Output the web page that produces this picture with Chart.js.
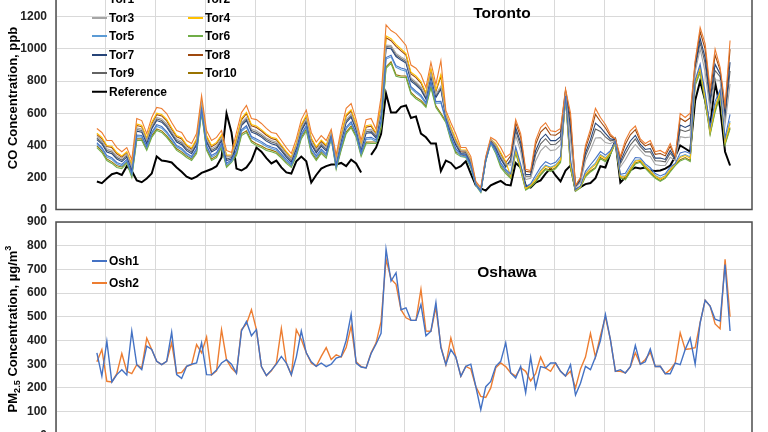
<!DOCTYPE html>
<html>
<head>
<meta charset="utf-8">
<script src="https://cdn.jsdelivr.net/npm/chart.js@4.4.0/dist/chart.umd.min.js"></script>
<style>
  html, body { margin: 0; padding: 0; background: #fff; }
  #page { position: relative; width: 768px; height: 432px; overflow: hidden; font-family: "Liberation Sans", Arial, sans-serif; color: #000; }
  .panel { position: absolute; left: 0; width: 768px; }
  #topPanel { top: -30px; height: 250px; }
  #botPanel { top: 212px; height: 240px; }
  .ytitle { position: absolute; font-weight: bold; font-size: 13px; white-space: nowrap; transform: translate(-50%, -50%) rotate(-90deg); }
  .ptitle { position: absolute; font-weight: bold; font-size: 15.5px; white-space: nowrap; transform: translate(-50%, -50%); }
  .lg-item { position: absolute; height: 16px; transform: translateY(-50%); font-weight: bold; font-size: 12px; line-height: 16px; white-space: nowrap; }
  .lg-line { position: absolute; top: 50%; height: 2px; transform: translateY(-50%); }
  .lg-text { position: absolute; top: 0; }
  sub, sup { font-size: 70%; line-height: 0; }
</style>
</head>
<body>
<div id="page">
  <div class="panel" id="topPanel"><canvas id="coChart"></canvas></div>
  <div class="panel" id="botPanel"><canvas id="pmChart"></canvas></div>
  <div class="ytitle" style="left:12px; top:98px;">CO Concentration, ppb</div>
  <div class="ytitle" style="left:12px; top:329px;">PM<sub>2.5</sub> Concentration, µg/m<sup>3</sup></div>
  <div class="ptitle" style="left:502px; top:13px;">Toronto</div>
  <div class="ptitle" style="left:507px; top:272px;">Oshawa</div>
  <div id="legends"></div>
</div>
<script>
// x categories: sample number along the record
const samples = Array.from({ length: 128 }, (_, i) => i);

// Toronto CO, ppb
const coTicks = [0, 200, 400, 600, 800, 1000, 1200, 1400];
const torNames = ['Tor1', 'Tor2', 'Tor3', 'Tor4', 'Tor5', 'Tor6', 'Tor7', 'Tor8', 'Tor9', 'Tor10'];
const torColors = ['#4472C4', '#ED7D31', '#A5A5A5', '#FFC000', '#5B9BD5', '#70AD47', '#264478', '#9E480E', '#636363', '#997300'];

const tor1 = [416,386,336,323,293,281,312,227,464,461, 394,480,528,517,486,444,399,382,350,331, 380,626,399,336,355,412,288,309,372,497,
  522,455,439,423,402,390,380,347,312,284, 357,470,522,382,334,377,347,455,272,401, 512,547,477,355,447,450,433,550,947,961,
  896,881,872,765,737,712,667,799,672,674, 559,457,379,344,339,277,156,114,307,420, 369,293,249,
  222,390,283,144,160,213,264, 298,282,294,331,707,313,123,149,238,279, 317,361,339,367,423,219,226,277,324,321,
  284,260,224,209,222,265,287,353,361,349, 806,906,732,515,674,747,447,592];
const tor2 = [505,480,430,430,386,360,386,310,567,554, 473,573,636,629,598,542,492,480,430,411, 473,710,492,430,449,492,368,355,480,604,
  648,567,560,536,505,480,473,430,386,349, 440,560,620,480,420,460,430,500,340,500, 630,660,560,430,560,567,500,700,1150,1115,
  1096,1060,1022,900,880,840,760,916,780,928, 617,540,470,386,386,330,175,137,330,449, 430,386,324,
  350,560,473,250,243,430,511, 540,490,485,505,750,600,150,200,400,500, 630,573,530,470,440,330,430,490,520,440,
  411,430,360,368,349,411,330,598,573,600, 928,1134,1034,750,1000,885,650,1053];
const tor3 = [455,428,378,368,334,318,346,265,508,502, 430,521,574,564,533,486,440,424,387,368, 421,664,440,378,396,449,325,334,418,542,
  574,502,490,471,446,430,421,385,346,315, 395,510,565,425,372,415,385,480,305,444, 561,595,515,390,495,499,465,610,1025,1022,
  973,951,932,820,795,765,708,848,718,769, 588,495,420,368,365,305,168,127,325,440, 400,334,284,
  275,460,361,187,194,302,365, 397,367,372,402,725,431,134,170,305,370, 446,448,417,410,430,265,310,365,405,370,
  336,330,280,274,274,325,305,454,448,452, 856,1000,856,611,808,804,530,782];
const tor4 = [475,449,399,394,355,334,361,282,533,523, 447,542,600,592,561,509,461,447,403,384, 442,682,461,399,418,465,341,340,444,568,
  606,530,520,498,471,450,442,402,361,327, 412,530,587,447,391,432,402,485,317,467, 591,622,532,405,522,528,478,650,1082,1064,
  1029,1000,972,855,832,797,729,877,744,843, 598,512,440,372,370,312,169,129,322,439, 410,355,299,
  208,370,261,131,150,188,235, 269,257,271,310,702,279,120,143,220,253, 280,336,316,355,421,206,202,252,301,307,
  269,240,208,190,207,249,282,324,336,320, 792,879,697,487,636,731,423,538];
const tor5 = [406,376,326,313,283,271,302,217,454,451, 384,470,518,507,476,434,389,372,340,321, 370,616,389,326,345,402,278,299,362,487,
  512,445,429,413,392,380,370,337,302,274, 347,460,512,372,324,367,337,445,262,391, 502,537,467,345,437,440,423,540,937,951,
  886,871,862,755,727,702,657,789,662,664, 549,447,369,334,329,267,152,110,303,415, 359,283,239,
  211,375,266,134,152,194,242, 276,263,277,315,703,287,120,144,224,259, 289,342,322,358,421,209,208,258,307,310,
  273,245,212,195,211,252,283,331,342,327, 795,886,705,494,645,735,429,551];
const tor6 = [386,355,305,287,262,255,287,200,430,430, 368,449,492,480,449,411,368,349,324,305, 349,598,368,305,324,386,262,293,336,461,
  480,418,399,386,368,360,349,320,287,262, 330,440,490,350,305,350,320,440,250,368, 473,510,450,330,410,411,411,500,880,910,
  830,822,822,720,690,670,636,760,636,590, 540,430,349,330,324,260,150,106,300,411, 349,262,224,
  194,352,244,121,140,170,214, 248,238,253,292,690,256,113,135,204,234, 256,316,298,342,414,195,185,234,283,294,
  256,224,195,176,194,234,273,303,316,298, 772,852,668,465,606,712,403,503];
const tor7 = [435,408,358,348,314,298,326,245,488,482, 410,501,554,544,513,466,420,404,367,348, 401,644,420,358,376,429,305,314,398,522,
  554,482,470,451,426,410,401,365,326,295, 375,490,545,405,352,395,365,460,285,424, 541,575,495,370,475,479,445,590,1005,1002,
  953,931,912,800,775,745,688,828,698,749, 568,475,400,348,345,285,155,115,305,420, 380,314,264,
  312,510,417,219,218,366,438, 469,429,429,454,737,515,142,185,352,435, 538,511,474,440,435,297,370,427,462,405,
  374,380,320,321,312,368,317,526,511,526, 892,1067,945,681,904,844,590,917];
const tor8 = [467,440,392,386,347,326,353,275,524,515, 439,533,591,583,552,500,453,439,396,376, 434,674,453,391,410,457,333,333,436,559,
  597,521,511,489,463,442,434,394,354,320, 404,521,578,439,383,424,394,478,310,459, 582,613,524,397,513,519,470,640,1070,1052,
  1016,988,962,845,822,788,721,867,735,830, 590,504,432,365,363,305,164,125,316,432, 402,347,291,
  335,540,451,238,233,405,482, 512,466,463,485,745,566,147,194,381,474, 593,548,508,458,438,317,406,465,497,426,
  396,410,344,349,334,394,325,569,548,570, 914,1107,999,722,962,869,626,999];
const tor9 = [445,418,368,358,324,308,336,255,498,492, 420,511,564,554,523,476,430,414,377,358, 411,654,430,368,386,439,315,324,408,532,
  564,492,480,461,436,420,411,375,336,305, 385,500,555,415,362,405,375,470,295,434, 551,585,505,380,485,489,455,600,1015,1012,
  963,941,922,810,785,755,698,838,708,759, 578,485,410,358,355,295,162,121,315,430, 390,324,274,
  297,490,395,207,208,341,409, 441,405,407,434,732,481,139,179,333,409, 501,486,452,428,433,284,346,402,439,391,
  359,360,304,302,297,351,312,497,486,496, 878,1040,910,653,866,828,566,863];
const tor10 = [396,365,315,297,272,265,297,210,440,440, 378,459,502,490,459,421,378,359,334,315, 359,608,378,315,334,396,272,303,346,471,
  490,428,409,396,378,370,359,330,297,272, 340,450,500,360,315,360,330,450,260,378, 483,520,460,340,420,421,421,510,890,920,
  840,832,832,730,700,680,646,770,646,600, 550,440,359,340,334,270,158,112,308,418, 359,272,234,
  200,360,250,125,145,175,220, 255,245,260,300,700,262,118,140,210,240, 262,324,305,349,420,200,190,240,290,300,
  262,230,200,181,200,240,280,310,324,305, 785,866,679,473,617,723,411,511];
const reference = [174,164,193,220,228,215,270,240,181,170, 193,224,330,305,300,293,262,235,205,190, 205,228,240,252,270,324,598,480,255,243,
  262,305,386,360,320,287,305,262,231,224, 300,330,300,168,215,255,270,280,280,290, 270,310,287,230,null,340,386,470,723,605,
  605,640,648,570,580,473,450,411,411,240, 305,290,255,270,300,224,150,131,118,150, 165,178,155,150,290,262,150,137,168,181,
  224,257,212,175,243,274,122,140,158,165, 195,270,262,350,430,168,200,243,262,255, 262,243,240,243,255,274,330,399,380,360,
  679,800,679,515,791,636,360,274];

// Oshawa PM2.5, ug/m3
const pmTicks = [0, 100, 200, 300, 400, 500, 600, 700, 800, 900];
const osh1 = [348,250,397,225,256,277,255,440,298,277, 376,362,312,298,312,435,256,240,291,300, 305,390,256,255,275,305,319,300,262,440,
  480,420,446,290,252,275,300,333,305,255, 330,440,348,310,291,
  305,290,300,326,333,400,510,305,288,284, 345,385,430,785,651,686,530,538,485,485, 552,420,439,560,370,298,362,330,249,291,
  300,206,108,205,227,291,312,390,263,242, 291,180,330,
  200,290,284,305,305,270,250,298,170,220, 291,277,330,400,510,404,270,277,263,290, 379,300,310,364,290,291,260,260,305,298,
  362,410,300,475,570,545,490,482,720,440];
const osh2 = [310,362,228,225,260,345,270,260,298,285, 410,362,312,298,312,390,262,265,291,298, 383,348,415,255,272,446,319,284,262,446,
  470,530,446,290,252,272,305,451,305,255, 446,404,348,305,291,
  333,370,320,340,330,370,461,310,290,284, 348,390,480,743,660,637,530,496,485,485, 616,440,439,540,375,298,411,330,249,291,
  280,206,164,160,200,285,305,290,263,250, 285,270,230,
  260,330,284,270,305,270,250,270,200,280, 330,430,330,420,500,404,270,270,263,290, 348,300,320,350,290,291,260,277,305,432,
  362,365,370,475,570,545,470,450,743,500];

// shared x range (vertical grid every 10 samples)
const X_MIN = -8.2, X_MAX = 131.4;
const xGrid = [];
for (let v = X_MIN; v < X_MAX - 2; v += 10) xGrid.push(v);

const framePlugin = {
  id: 'frame',
  beforeDatasetsDraw(chart) {
    const { ctx, chartArea: a } = chart;
    ctx.save();
    ctx.strokeStyle = '#4d4d4d';
    ctx.lineWidth = 1.5;
    ctx.strokeRect(a.left, a.top, a.right - a.left, a.bottom - a.top);
    ctx.restore();
  }
};

function makeOptions(ticks, padding) {
  return {
    responsive: true,
    maintainAspectRatio: false,
    animation: false,
    layout: { padding },
    plugins: { legend: { display: false }, tooltip: { enabled: false } },
    elements: { point: { radius: 0 }, line: { tension: 0 } },
    scales: {
      x: {
        type: 'linear', min: X_MIN, max: X_MAX,
        afterBuildTicks: (s) => { s.ticks = xGrid.map((value) => ({ value })); },
        afterFit: (s) => { s.height = 0; },
        ticks: { display: false },
        grid: { color: '#d9d9d9', drawTicks: false },
        border: { display: false }
      },
      y: {
        min: ticks[0], max: ticks[ticks.length - 1],
        afterBuildTicks: (s) => { s.ticks = ticks.map((value) => ({ value })); },
        afterFit: (s) => { s.width = 56; },
        ticks: {
          padding: 0, color: '#222',
          font: { family: 'Liberation Sans', weight: 'bold', size: 12 },
          callback: (v) => String(v)
        },
        // invisible tick marks keep the labels 9px off the axis
        grid: { color: '#d9d9d9', drawTicks: true, tickLength: 9, tickColor: 'rgba(0,0,0,0)' },
        border: { display: false }
      }
    }
  };
}

const torSeries = [tor1, tor2, tor3, tor4, tor5, tor6, tor7, tor8, tor9, tor10];
const coDatasets = torSeries.map((data, k) => ({
  label: torNames[k], data, borderColor: torColors[k], borderWidth: 1.1
}));
coDatasets.push({ label: 'Reference', data: reference, borderColor: '#000', borderWidth: 2, spanGaps: false });

new Chart(document.getElementById('coChart'), {
  type: 'line',
  data: { labels: samples, datasets: coDatasets },
  options: makeOptions(coTicks, { top: 14.8, left: 0, right: 16, bottom: 10.5 }),
  plugins: [framePlugin]
});

new Chart(document.getElementById('pmChart'), {
  type: 'line',
  data: {
    labels: samples,
    datasets: [
      { label: 'Osh1', data: osh1, borderColor: '#4472C4', borderWidth: 1.4 },
      { label: 'Osh2', data: osh2, borderColor: '#ED7D31', borderWidth: 1.4 }
    ]
  },
  options: makeOptions(pmTicks, { top: 10, left: 0, right: 16, bottom: 16.7 }),
  plugins: [framePlugin]
});

// legends placed inside the plot areas, like the original
const legendBox = document.getElementById('legends');
function addLegendItem(name, color, thick, x, y) {
  const item = document.createElement('div');
  item.className = 'lg-item';
  item.style.left = x + 'px';
  item.style.top = y + 'px';
  item.innerHTML = `<span class="lg-line" style="left:0;width:15px;background:${color};height:${thick}px"></span>` +
    `<span class="lg-text" style="left:17px">${name}</span>`;
  legendBox.appendChild(item);
}
coDatasets.forEach((ds, k) => {
  const col = k < 10 ? k % 2 : 0;
  const row = k < 10 ? Math.floor(k / 2) : 5;
  addLegendItem(ds.label, ds.borderColor, k < 10 ? 2 : 2.5, col === 0 ? 92 : 188, -1 + row * 18.5);
});
addLegendItem('Osh1', '#4472C4', 2, 92, 261);
addLegendItem('Osh2', '#ED7D31', 2, 92, 283);
</script>
</body>
</html>
